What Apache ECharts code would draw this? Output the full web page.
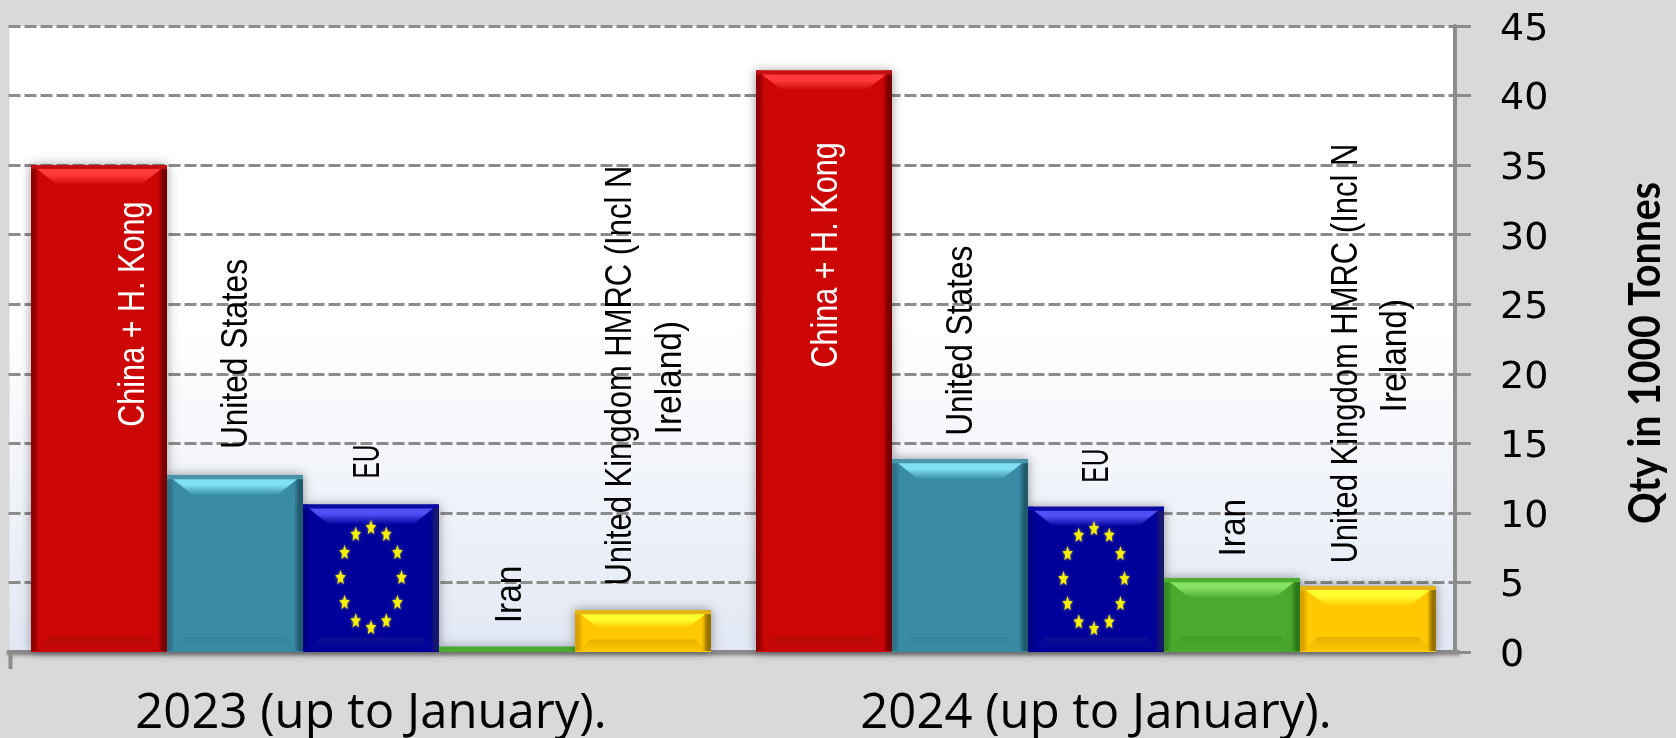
<!DOCTYPE html>
<html>
<head>
<meta charset="utf-8">
<style>html,body{margin:0;padding:0;background:#d9d9d9}#c{width:1676px;height:738px}</style>
<script src="https://cdn.jsdelivr.net/npm/echarts@6/dist/echarts.min.js"></script>
</head>
<body>
<div id="c"></div>
<script>
const categories = ['2023 (up to January).', '2024 (up to January).'];
const seriesNames = ['China + H. Kong', 'United States', 'EU', 'Iran', 'United Kingdom HMRC (Incl N\nIreland)'];
const china = [35.0, 41.8];
const unitedStates = [12.7, 13.85];
const eu = [10.6, 10.45];
const iran = [0.4, 5.3];
const unitedKingdom = [3.0, 4.75];
const axisTitle = 'Qty in 1000 Tonnes';

const seriesValues = [china, unitedStates, eu, iran, unitedKingdom];
// label placement: per series, per year, per text line: [dx, dy] from the top centre of the bar
const labelOffsets = [
  [[[35, 149]], [[2.75, 184.5]]],
  [[[2, -121.3]], [[1.75, -118.6]]],
  [[[-2, -43]], [[1.75, -41]]],
  [[[4, -52]], [[2.75, -50.6]]],
  [[[-21.75, -234.6], [28.25, -232.6]], [[-21.25, -232.3], [27.75, -230.3]]]
];
const labelStretch = [[0.85], [0.88], [0.68], [0.93], [0.86, 0.93]];
const starShift = [0, -2];
const palette = [
  {main:'#cc0605', hi:'#ff3a3a', left:'#8f0000', right:'#760000', bottom:'#a80808', top:'#c41010'},
  {main:'#3a8ca6', hi:'#7fe0f6', left:'#2e7289', right:'#215a6c', bottom:'#327f96', top:'#4a95ac'},
  {main:'#00009b', hi:'#4f4ff5', left:'#000085', right:'#18186e', bottom:'#16168c', top:'#0a0aa5'},
  {main:'#4aa92e', hi:'#86e066', left:'#358a22', right:'#2a7a1c', bottom:'#3f9628', top:'#4eb030'},
  {main:'#ffc800', hi:'#ffff30', left:'#d9a200', right:'#967200', bottom:'#d9a200', top:'#e6b414'}
];
const BAR_W = 136;
const G = echarts.graphic.LinearGradient;
const rgba0 = c => { const n = parseInt(c.slice(1), 16); return `rgba(${n>>16},${(n>>8)&255},${n&255},0)`; };

function star(cx, cy, rx, ry) {
  const pts = [];
  for (let i = 0; i < 10; i++) {
    const a = -Math.PI / 2 + i * Math.PI / 5, k = i % 2 ? 0.45 : 1;
    pts.push([cx + rx * k * Math.cos(a), cy + ry * k * Math.sin(a)]);
  }
  return pts;
}

function renderBevel(params, api) {
  const cat = api.value(0), s = api.value(1), v = api.value(2);
  const c0 = api.coord([cat, 0]), c1 = api.coord([cat, v]);
  const mid = c0[0] + (s - 2) * BAR_W;
  const x0 = mid - BAR_W / 2, x1 = mid + BAR_W / 2, y0 = c1[1], y1 = c0[1] - 1, h = y1 - y0;
  const p = palette[s], kids = [];
  const poly = (points, fill, opacity) => kids.push({type: 'polygon', shape: {points}, style: {fill, opacity: opacity == null ? 1 : opacity}, silent: true});
  const rect = (x, y, w, hh, fill) => kids.push({type: 'rect', shape: {x, y, width: w, height: hh}, style: {fill}, silent: true});
  if (h >= 10) {
    const tH = Math.min(20, h * 0.45), bH = Math.min(14, h * 0.28);
    rect(x0, y0, 8, h, new G(0, 0, 1, 0, [{offset: 0, color: p.left}, {offset: .4, color: p.left}, {offset: 1, color: rgba0(p.left)}]));
    rect(x1 - 9, y0, 9, h, new G(0, 0, 1, 0, [{offset: 0, color: rgba0(p.right)}, {offset: .6, color: p.right}, {offset: 1, color: p.right}]));
    rect(x0, y0, BAR_W, 4, p.top);
    poly([[x0 + 6, y0 + 4], [x1 - 6, y0 + 4], [x1 - 6 - tH, y0 + tH], [x0 + 6 + tH, y0 + tH]],
      new G(0, 0, 0, 1, [{offset: 0, color: p.hi}, {offset: .35, color: p.hi}, {offset: 1, color: rgba0(p.hi)}]));
    poly([[x0 + 4, y1], [x1 - 4, y1], [x1 - 4 - bH, y1 - bH], [x0 + 4 + bH, y1 - bH]],
      new G(0, 0, 0, 1, [{offset: 0, color: p.bottom}, {offset: 1, color: rgba0(p.bottom)}]), 0.6);
    if (s === 2) {
      const cy = (y0 + y1) / 2;
      for (let i = 0; i < 12; i++) {
        const a = i * Math.PI / 6;
        kids.push({type: 'polygon', silent: true,
          shape: {points: star(mid + starShift[cat] + 30.5 * Math.sin(a), cy - 50 * Math.cos(a), 5.5, 8)},
          style: {fill: '#f4f000', shadowBlur: 3, shadowColor: 'rgba(200,200,90,.8)'}});
      }
    }
  }
  seriesNames[s].split('\n').forEach((line, i) => {
    const off = labelOffsets[s][cat][i];
    kids.push({
      type: 'text', silent: true, x: mid + off[0], y: y0 + off[1], rotation: Math.PI / 2, scaleX: labelStretch[s][i],
      style: {
        text: line, align: 'center', verticalAlign: 'middle',
        fontFamily: '"Liberation Sans", sans-serif', fontSize: 36, fill: s === 0 ? '#fff' : '#000'
      }
    });
  });
  return {type: 'group', children: kids};
}

const barSeries = seriesNames.map((name, s) => ({
  name: name.replace('\n', ' '), type: 'bar', barWidth: BAR_W, barGap: 0, z: 2,
  itemStyle: {color: palette[s].main, shadowBlur: 10, shadowColor: 'rgba(0,0,0,.4)'},
  data: seriesValues[s]
}));
const bevelData = [];
seriesValues.forEach((vals, s) => vals.forEach((v, c) => bevelData.push([c, s, v])));

const chart = echarts.init(document.getElementById('c'), null, {renderer: 'canvas'});
chart.setOption({
  animation: false,
  backgroundColor: '#d9d9d9',
  grid: {left: 8.5, right: 217.5, top: 26, bottom: 86, show: false, outerBoundsMode: 'none'},
  xAxis: {
    type: 'category', data: categories,
    axisLine: {lineStyle: {color: '#8c8c8c', width: 4, shadowColor: 'rgba(0,0,0,.3)', shadowBlur: 3, shadowOffsetY: 2}},
    axisTick: {show: false},
    axisLabel: {margin: 38, fontFamily: '"Open Sans", sans-serif', fontSize: 49, color: '#000'}
  },
  yAxis: {
    type: 'value', position: 'right', offset: -3.5, min: 0, max: 45, interval: 5,
    axisLine: {show: true, lineStyle: {color: '#8c8c8c', width: 4}},
    axisTick: {show: true, length: 16, lineStyle: {color: '#8c8c8c', width: 3}},
    axisLabel: {margin: 45, verticalAlign: 'top', lineHeight: 8, fontFamily: '"DejaVu Sans", sans-serif', fontSize: 38, color: '#000'},
    splitLine: {show: true, lineStyle: {color: '#8c8c8c', width: 3, type: [12, 4]}}
  },
  graphic: [
    {type: 'rect', z: -1, silent: true, shape: {x: 9.5, y: 26, width: 1445.5, height: 626},
      style: {fill: new G(0, 0, 0, 1, [{offset: 0, color: '#ffffff'}, {offset: .48, color: '#ffffff'}, {offset: 1, color: '#e2e8f4'}])}},
    {type: 'line', z: 5, silent: true, shape: {x1: 10.5, y1: 651, x2: 10.5, y2: 669}, style: {stroke: '#8c8c8c', lineWidth: 4}},
    {type: 'text', z: 5, silent: true, x: 1645.5, y: 353, rotation: Math.PI / 2, scaleX: 0.89,
      style: {text: axisTitle, align: 'center', verticalAlign: 'middle', fontFamily: 'Lato, sans-serif', fontWeight: 'bold', fontSize: 44, fill: '#000'}}
  ],
  series: barSeries.concat([{
    type: 'custom', z: 3, renderItem: renderBevel, clip: false, silent: true,
    encode: {x: 0, y: 2}, data: bevelData
  }])
});
</script>
</body>
</html>
